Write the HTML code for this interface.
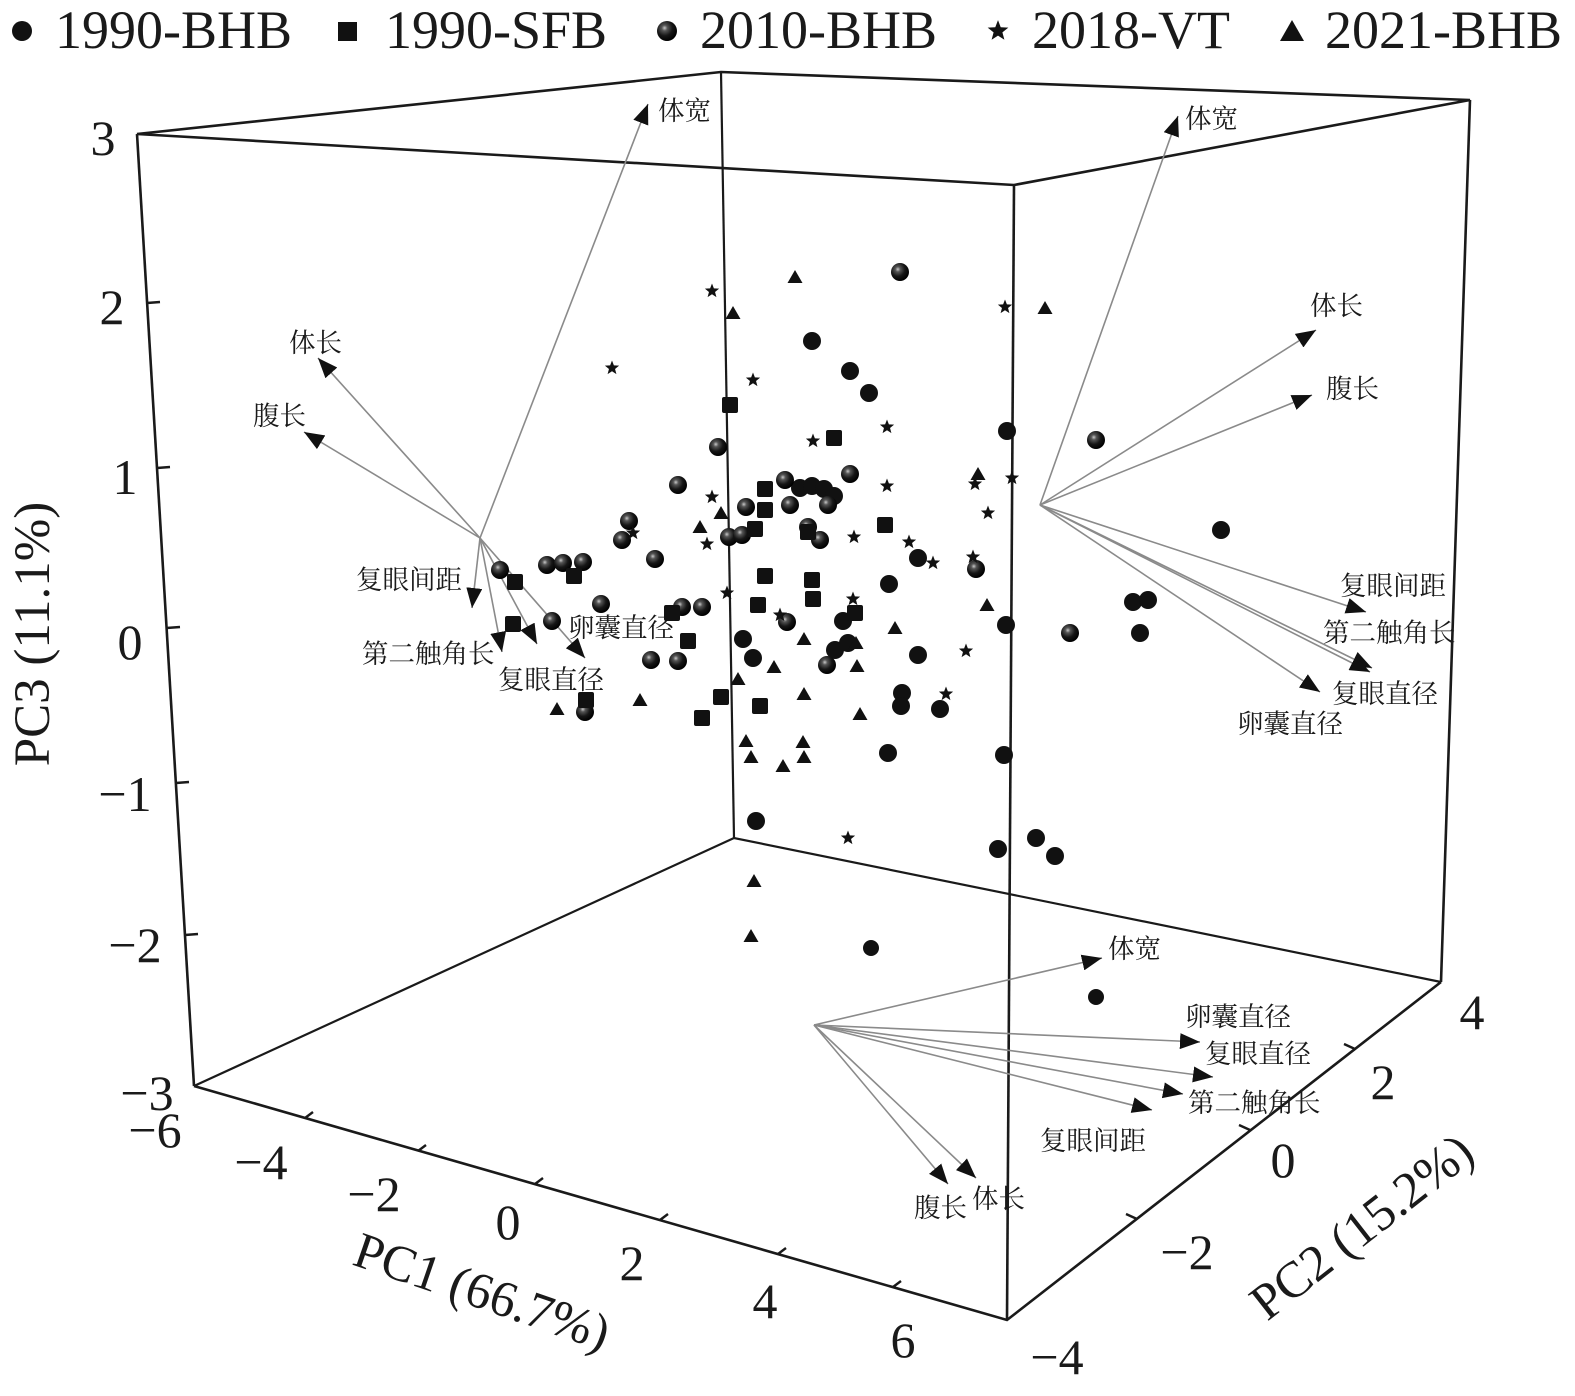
<!DOCTYPE html>
<html>
<head>
<meta charset="utf-8">
<style>
  html,body{margin:0;padding:0;background:#fff;}
  svg{display:block;}
  .num{font-family:"Liberation Serif","Noto Serif CJK SC",serif;font-size:50px;fill:#1a1a1a;text-anchor:middle;}
  .ttl{font-family:"Liberation Serif","Noto Serif CJK SC",serif;font-size:51px;fill:#1a1a1a;text-anchor:middle;}
  .leg{font-family:"Liberation Serif","Noto Serif CJK SC",serif;font-size:54px;fill:#1a1a1a;}
  .cn{font-family:"Liberation Serif","Noto Serif CJK SC",serif;font-size:26.5px;fill:#1a1a1a;}
  .ar{stroke:#8a8a8a;stroke-width:1.6;fill:none;marker-end:url(#ah);}
  .bx{stroke:#1a1a1a;stroke-width:2.6;fill:none;stroke-linejoin:miter;}
  .tk{stroke:#1a1a1a;stroke-width:2.4;}
</style>
</head>
<body>
<svg width="1575" height="1396" viewBox="0 0 1575 1396" xmlns="http://www.w3.org/2000/svg">
<defs>
  <radialGradient id="sg" cx="0.38" cy="0.35" r="0.65">
    <stop offset="0" stop-color="#c8c8c8"/>
    <stop offset="0.22" stop-color="#555"/>
    <stop offset="0.6" stop-color="#161616"/>
    <stop offset="1" stop-color="#000"/>
  </radialGradient>
  <marker id="ah" viewBox="0 0 20 16" refX="20" refY="8" markerWidth="20" markerHeight="16" markerUnits="userSpaceOnUse" orient="auto">
    <path d="M0,0 L20,8 L0,16 z" fill="#111"/>
  </marker>
  <g id="c"><circle r="9" fill="#111"/></g>
  <g id="cs"><circle r="8" fill="#111"/></g>
  <g id="p"><circle r="9" fill="url(#sg)"/></g>
  <g id="q"><rect x="-8" y="-8" width="16" height="16" rx="2" fill="#111"/></g>
  <g id="t"><polygon fill="#111" points="0,-7.5 1.88,-2.59 7.13,-2.32 3.04,0.99 4.41,6.07 0,3.2 -4.41,6.07 -3.04,0.99 -7.13,-2.32 -1.88,-2.59"/></g>
  <g id="g"><polygon fill="#111" points="0,-7 7.5,6 -7.5,6"/></g>
</defs>

<rect width="1575" height="1396" fill="#fff"/>

<!-- Legend -->
<circle cx="22" cy="31" r="10" fill="#111"/>
<text class="leg" x="55" y="48">1990-BHB</text>
<rect x="338" y="22" width="19" height="19" fill="#111"/>
<text class="leg" x="385" y="48">1990-SFB</text>
<circle cx="667" cy="31" r="10" fill="url(#sg)"/>
<text class="leg" x="700" y="48">2010-BHB</text>
<g transform="translate(998,31) scale(1.45)"><polygon fill="#111" points="0,-7.5 1.88,-2.59 7.13,-2.32 3.04,0.99 4.41,6.07 0,3.2 -4.41,6.07 -3.04,0.99 -7.13,-2.32 -1.88,-2.59"/></g>
<text class="leg" x="1032" y="48">2018-VT</text>
<polygon fill="#111" points="1292,20 1304,41 1280,41"/>
<text class="leg" x="1325" y="48">2021-BHB</text>

<!-- Box -->
<path class="bx" d="M137,134 L721,72 L1470,100 L1014,185 Z"/>
<path class="bx" d="M137,134 L194,1086"/>
<path class="bx" d="M721,72 L734,838" style="stroke-width:2.2"/>
<path class="bx" d="M1470,100 L1441,982"/>
<path class="bx" d="M1014,185 L1007,1320"/>
<path class="bx" d="M194,1086 L1007,1320 L1441,982"/>
<path class="bx" d="M194,1086 L734,838 L1441,982" style="stroke-width:2.2"/>

<!-- Z ticks -->
<line class="tk" x1="147" y1="303" x2="160" y2="302"/>
<line class="tk" x1="157" y1="468" x2="170" y2="467"/>
<line class="tk" x1="166.6" y1="628" x2="180" y2="627"/>
<line class="tk" x1="176" y1="783" x2="189" y2="782"/>
<line class="tk" x1="185" y1="935" x2="198" y2="934"/>

<!-- PC1 ticks -->
<line class="tk" x1="305" y1="1118" x2="313" y2="1112"/>
<line class="tk" x1="418" y1="1151" x2="426" y2="1145"/>
<line class="tk" x1="535" y1="1184" x2="543" y2="1178"/>
<line class="tk" x1="660" y1="1220" x2="668" y2="1214"/>
<line class="tk" x1="778" y1="1254" x2="786" y2="1248"/>
<line class="tk" x1="893" y1="1287" x2="901" y2="1281"/>

<!-- PC2 ticks -->
<line class="tk" x1="1137" y1="1219" x2="1126" y2="1214"/>
<line class="tk" x1="1250" y1="1130" x2="1239" y2="1125"/>
<line class="tk" x1="1355" y1="1049" x2="1344" y2="1044"/>

<!-- Z tick labels -->
<text class="num" x="103" y="155">3</text>
<text class="num" x="112" y="324">2</text>
<text class="num" x="125" y="494">1</text>
<text class="num" x="130" y="659">0</text>
<text class="num" x="125" y="811">−1</text>
<text class="num" x="135" y="962">−2</text>
<text class="num" x="147" y="1110">−3</text>

<!-- PC1 tick labels -->
<text class="num" x="155" y="1147">−6</text>
<text class="num" x="261" y="1179">−4</text>
<text class="num" x="374" y="1211">−2</text>
<text class="num" x="508" y="1239">0</text>
<text class="num" x="632" y="1280">2</text>
<text class="num" x="765" y="1318">4</text>
<text class="num" x="903" y="1357">6</text>

<!-- PC2 tick labels -->
<text class="num" x="1472" y="1029">4</text>
<text class="num" x="1383" y="1099">2</text>
<text class="num" x="1283" y="1177">0</text>
<text class="num" x="1187" y="1269">−2</text>
<text class="num" x="1057" y="1374">−4</text>

<!-- Axis titles -->
<text class="ttl" transform="translate(49,634) rotate(-90)">PC3 (11.1%)</text>
<text class="ttl" transform="translate(482,1292) rotate(19)" dy="0.32em">PC1 (66.7%)</text>
<text class="ttl" transform="translate(1362,1227) rotate(-38)" dy="0.32em">PC2 (15.2%)</text>

<!-- Left biplot -->
<line class="ar" x1="480" y1="538" x2="648" y2="104"/>
<line class="ar" x1="480" y1="538" x2="318" y2="358"/>
<line class="ar" x1="480" y1="538" x2="304" y2="432"/>
<line class="ar" x1="480" y1="538" x2="472" y2="608"/>
<line class="ar" x1="480" y1="538" x2="502" y2="652"/>
<line class="ar" x1="480" y1="538" x2="537" y2="644"/>
<line class="ar" x1="480" y1="538" x2="585" y2="658"/>
<text class="cn" x="658" y="120">体宽</text>
<text class="cn" x="289" y="352">体长</text>
<text class="cn" x="253" y="425">腹长</text>
<text class="cn" x="356" y="589">复眼间距</text>
<text class="cn" x="362" y="663">第二触角长</text>
<text class="cn" x="498" y="689">复眼直径</text>
<text class="cn" x="568" y="637">卵囊直径</text>

<!-- Right biplot -->
<line class="ar" x1="1040" y1="505" x2="1178" y2="116"/>
<line class="ar" x1="1040" y1="505" x2="1316" y2="330"/>
<line class="ar" x1="1040" y1="505" x2="1312" y2="395"/>
<line class="ar" x1="1040" y1="505" x2="1366" y2="612"/>
<line class="ar" x1="1040" y1="505" x2="1372" y2="668"/>
<line class="ar" x1="1040" y1="505" x2="1370" y2="672"/>
<line class="ar" x1="1040" y1="505" x2="1320" y2="692"/>
<text class="cn" x="1185" y="128">体宽</text>
<text class="cn" x="1310" y="315">体长</text>
<text class="cn" x="1326" y="398">腹长</text>
<text class="cn" x="1340" y="595">复眼间距</text>
<text class="cn" x="1323" y="642">第二触角长</text>
<text class="cn" x="1332" y="703">复眼直径</text>
<text class="cn" x="1237" y="733">卵囊直径</text>

<!-- Bottom biplot -->
<line class="ar" x1="814" y1="1025" x2="1102" y2="958"/>
<line class="ar" x1="814" y1="1025" x2="1200" y2="1042"/>
<line class="ar" x1="814" y1="1025" x2="1213" y2="1077"/>
<line class="ar" x1="814" y1="1025" x2="1183" y2="1094"/>
<line class="ar" x1="814" y1="1025" x2="1152" y2="1110"/>
<line class="ar" x1="814" y1="1025" x2="948" y2="1184"/>
<line class="ar" x1="814" y1="1025" x2="976" y2="1178"/>
<text class="cn" x="1108" y="958">体宽</text>
<text class="cn" x="1185" y="1026">卵囊直径</text>
<text class="cn" x="1205" y="1063">复眼直径</text>
<text class="cn" x="1188" y="1112">第二触角长</text>
<text class="cn" x="1040" y="1150">复眼间距</text>
<text class="cn" x="914" y="1217">腹长</text>
<text class="cn" x="972" y="1208">体长</text>

<!-- Points: 1990-BHB solid circles -->
<use href="#c" x="812" y="341"/><use href="#c" x="850" y="371"/><use href="#c" x="869" y="393"/>
<use href="#c" x="1007" y="431"/><use href="#c" x="918" y="558"/><use href="#c" x="889" y="584"/>
<use href="#c" x="918" y="655"/><use href="#c" x="902" y="693"/><use href="#c" x="901" y="706"/>
<use href="#c" x="940" y="709"/><use href="#c" x="888" y="753"/><use href="#c" x="1004" y="755"/>
<use href="#c" x="1006" y="625"/><use href="#c" x="743" y="639"/><use href="#c" x="753" y="658"/>
<use href="#c" x="843" y="621"/><use href="#c" x="756" y="821"/><use href="#c" x="998" y="849"/>
<use href="#c" x="1036" y="838"/><use href="#c" x="1055" y="856"/><use href="#c" x="1133" y="602"/>
<use href="#c" x="1148" y="600"/><use href="#c" x="1140" y="633"/><use href="#c" x="1221" y="530"/>
<use href="#c" x="800" y="488"/><use href="#c" x="812" y="486"/><use href="#c" x="824" y="489"/>
<use href="#c" x="834" y="496"/><use href="#c" x="835" y="650"/><use href="#c" x="848" y="643"/>
<use href="#cs" x="871" y="948"/><use href="#cs" x="1096" y="997"/>

<!-- 2010-BHB spheres -->
<use href="#p" x="900" y="272"/><use href="#p" x="718" y="447"/><use href="#p" x="678" y="485"/>
<use href="#p" x="746" y="507"/><use href="#p" x="629" y="521"/><use href="#p" x="850" y="474"/>
<use href="#p" x="785" y="480"/><use href="#p" x="790" y="505"/><use href="#p" x="828" y="505"/>
<use href="#p" x="808" y="527"/><use href="#p" x="820" y="540"/><use href="#p" x="976" y="569"/>
<use href="#p" x="787" y="622"/><use href="#p" x="827" y="665"/><use href="#p" x="622" y="540"/>
<use href="#p" x="729" y="537"/><use href="#p" x="742" y="535"/><use href="#p" x="500" y="570"/>
<use href="#p" x="547" y="565"/><use href="#p" x="563" y="563"/><use href="#p" x="583" y="562"/>
<use href="#p" x="655" y="559"/><use href="#p" x="601" y="604"/><use href="#p" x="682" y="607"/>
<use href="#p" x="702" y="607"/><use href="#p" x="552" y="621"/><use href="#p" x="651" y="660"/>
<use href="#p" x="678" y="661"/><use href="#p" x="585" y="712"/><use href="#p" x="1070" y="633"/>
<use href="#p" x="1096" y="440"/>

<!-- 1990-SFB squares -->
<use href="#q" x="730" y="405"/><use href="#q" x="834" y="438"/><use href="#q" x="765" y="489"/>
<use href="#q" x="765" y="510"/><use href="#q" x="885" y="525"/><use href="#q" x="808" y="532"/>
<use href="#q" x="755" y="529"/><use href="#q" x="515" y="582"/><use href="#q" x="574" y="576"/>
<use href="#q" x="765" y="576"/><use href="#q" x="812" y="580"/><use href="#q" x="813" y="599"/>
<use href="#q" x="855" y="613"/><use href="#q" x="758" y="605"/><use href="#q" x="672" y="613"/>
<use href="#q" x="513" y="624"/><use href="#q" x="688" y="641"/><use href="#q" x="721" y="697"/>
<use href="#q" x="760" y="706"/><use href="#q" x="586" y="700"/><use href="#q" x="702" y="718"/>

<!-- 2018-VT stars -->
<use href="#t" x="712" y="291"/><use href="#t" x="1005" y="307"/><use href="#t" x="612" y="368"/>
<use href="#t" x="753" y="380"/><use href="#t" x="887" y="427"/><use href="#t" x="813" y="441"/>
<use href="#t" x="712" y="497"/><use href="#t" x="887" y="486"/><use href="#t" x="975" y="484"/>
<use href="#t" x="1012" y="478"/><use href="#t" x="988" y="513"/><use href="#t" x="854" y="537"/>
<use href="#t" x="909" y="542"/><use href="#t" x="933" y="563"/><use href="#t" x="973" y="557"/>
<use href="#t" x="853" y="599"/><use href="#t" x="780" y="615"/><use href="#t" x="966" y="651"/>
<use href="#t" x="946" y="694"/><use href="#t" x="633" y="533"/><use href="#t" x="707" y="544"/>
<use href="#t" x="727" y="593"/><use href="#t" x="848" y="838"/>

<!-- 2021-BHB triangles -->
<use href="#g" x="795" y="277"/><use href="#g" x="733" y="313"/><use href="#g" x="1045" y="308"/>
<use href="#g" x="721" y="513"/><use href="#g" x="700" y="527"/><use href="#g" x="978" y="474"/>
<use href="#g" x="987" y="605"/><use href="#g" x="895" y="628"/><use href="#g" x="804" y="639"/>
<use href="#g" x="856" y="643"/><use href="#g" x="774" y="667"/><use href="#g" x="857" y="666"/>
<use href="#g" x="804" y="694"/><use href="#g" x="860" y="714"/><use href="#g" x="803" y="742"/>
<use href="#g" x="804" y="757"/><use href="#g" x="783" y="766"/><use href="#g" x="738" y="679"/>
<use href="#g" x="640" y="700"/><use href="#g" x="557" y="709"/><use href="#g" x="746" y="741"/>
<use href="#g" x="751" y="757"/><use href="#g" x="754" y="881"/><use href="#g" x="751" y="936"/>
</svg>
</body>
</html>
